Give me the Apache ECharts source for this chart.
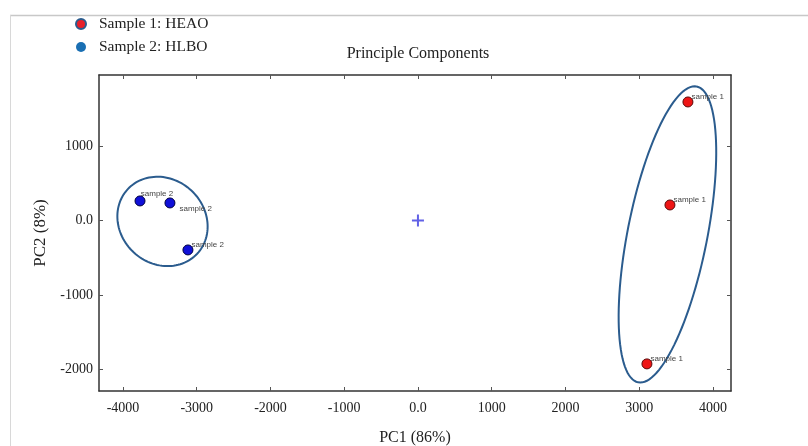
<!DOCTYPE html>
<html>
<head>
<meta charset="utf-8">
<script src="https://cdn.jsdelivr.net/npm/echarts@6/dist/echarts.min.js"></script>
<style>html,body{margin:0;padding:0;background:#fff;}#c{width:808px;height:446px;}</style>
</head>
<body>
<div id="c"></div>
<script>
// ---- data ----
const xTicks = [-4000, -3000, -2000, -1000, 0, 1000, 2000, 3000, 4000];
const yTicks = [-2000, -1000, 0, 1000];
const xRange = [-4325, 4245];
const yRange = [-2290, 1953];
const sample1Name = 'Sample 1: HEAO';
const sample2Name = 'Sample 2: HLBO';
const sample1Points = [[3661, 1591], [3417, 208], [3105, -1926]];
const sample2Points = [[-3769, 262], [-3363, 235], [-3119, -396]];
const sample1Labels = ['sample 1', 'sample 1', 'sample 1'];
const sample2Labels = ['sample 2', 'sample 2', 'sample 2'];
const origin = [[0, 0]];
// ellipse: [centerX, centerY, semiMajor, semiMinor, angleDeg]
const ellipses = [[3383, -188, 2025, 540, 78.7], [-3464, -13, 640, 570, -40]];

// ---- styles ----
const serif = '"Liberation Serif", "DejaVu Serif", serif';
const s1LabelOffsets = [[-2, -5], [-2, -5], [-2, -5]];
const s2LabelPos = [
  {position: 'top', offset: [17, 2]},
  {position: 'right', offset: [4, 6]},
  {position: 'right', offset: [-2, -5]}
];

const chart = echarts.init(document.getElementById('c'), null, {renderer: 'canvas'});

function xAxisCfg(pos, showLabels) {
  return {
    type: 'value', position: pos, min: xRange[0], max: xRange[1],
    axisLine: {onZero: false, lineStyle: {color: '#333', width: 1.5}},
    splitLine: {show: false},
    axisTick: {show: true, inside: true, length: 4, customValues: xTicks, lineStyle: {color: '#555'}},
    axisLabel: {show: showLabels, customValues: xTicks, margin: 10, color: '#222', fontFamily: serif, fontSize: 14,
      formatter: v => v === 0 ? '0.0' : String(v)}
  };
}
function yAxisCfg(pos, showLabels) {
  return {
    type: 'value', position: pos, min: yRange[0], max: yRange[1],
    axisLine: {onZero: false, lineStyle: {color: '#333', width: 1.5}},
    splitLine: {show: false},
    axisTick: {show: true, inside: true, length: 4, customValues: yTicks, lineStyle: {color: '#555'}},
    axisLabel: {show: showLabels, customValues: yTicks, margin: 6, color: '#222', fontFamily: serif, fontSize: 14,
      formatter: v => v === 0 ? '0.0' : String(v)}
  };
}

const xMain = xAxisCfg('bottom', true);
xMain.name = 'PC1 (86%)';
xMain.nameLocation = 'middle';
xMain.nameGap = 39;
xMain.nameTextStyle = {fontFamily: serif, fontSize: 16, color: '#222'};
const yMain = yAxisCfg('left', true);
yMain.name = 'PC2 (8%)';
yMain.nameLocation = 'middle';
yMain.nameGap = 47;
yMain.nameTextStyle = {fontFamily: serif, fontSize: 17, color: '#222'};

function ellipseRender(params, api) {
  const cx = api.value(0), cy = api.value(1), a = api.value(2), b = api.value(3);
  const ang = api.value(4) * Math.PI / 180;
  const pts = [];
  const n = 120;
  for (let i = 0; i <= n; i++) {
    const t = i / n * Math.PI * 2;
    const ex = a * Math.cos(t), ey = b * Math.sin(t);
    const dx = cx + ex * Math.cos(ang) - ey * Math.sin(ang);
    const dy = cy + ex * Math.sin(ang) + ey * Math.cos(ang);
    pts.push(api.coord([dx, dy]));
  }
  return {type: 'polyline', shape: {points: pts}, style: {stroke: '#2b5c8e', lineWidth: 2, fill: null}, silent: true};
}

chart.setOption({
  animation: false,
  backgroundColor: '#fff',
  title: {text: 'Principle Components', left: 413, top: 41, textAlign: 'center',
    textStyle: {fontFamily: serif, fontSize: 16, fontWeight: 'normal', color: '#222'}},
  legend: {
    orient: 'vertical', left: 75, top: 16, padding: 0, itemWidth: 10, itemHeight: 10, itemGap: 7,
    icon: 'circle',
    textStyle: {fontFamily: serif, fontSize: 15.5, color: '#222', padding: [0, 0, 0, 8]},
    data: [
      {name: sample1Name, itemStyle: {color: '#e8202a', borderColor: '#2b5c8e', borderWidth: 2}},
      {name: sample2Name, itemStyle: {color: '#1a6fb3', borderColor: '#1a6fb3', borderWidth: 0}}
    ]
  },
  graphic: [
    {type: 'line', shape: {x1: 10, y1: 15.5, x2: 808, y2: 15.5}, style: {stroke: '#c8c8c8', lineWidth: 1.5}, silent: true},
    {type: 'line', shape: {x1: 10.5, y1: 15, x2: 10.5, y2: 446}, style: {stroke: '#d8d8d8', lineWidth: 1}, silent: true}
  ],
  grid: {left: 99, right: 77, top: 75, bottom: 55, containLabel: false, outerBoundsMode: 'none'},
  xAxis: [xMain, xAxisCfg('top', false)],
  yAxis: [yMain, yAxisCfg('right', false)],
  series: [
    {
      type: 'custom', name: 'ellipses', renderItem: ellipseRender, data: ellipses,
      encode: {x: 0, y: 1}, silent: true, z: 1
    },
    {
      type: 'scatter', name: sample1Name, symbolSize: 10, z: 3,
      itemStyle: {color: '#ee1515', borderColor: '#5a0a0a', borderWidth: 1, opacity: 1},
      label: {show: true, fontFamily: '"Liberation Sans", Arial, sans-serif', fontSize: 8, color: '#444'},
      data: sample1Points.map((p, i) => ({value: p,
        label: {formatter: sample1Labels[i], position: 'right', distance: 0, offset: s1LabelOffsets[i]}}))
    },
    {
      type: 'scatter', name: sample2Name, symbolSize: 10, z: 3,
      itemStyle: {color: '#1010d8', borderColor: '#000040', borderWidth: 1, opacity: 1},
      label: {show: true, fontFamily: '"Liberation Sans", Arial, sans-serif', fontSize: 8, color: '#444'},
      data: sample2Points.map((p, i) => ({value: p,
        label: Object.assign({formatter: sample2Labels[i], distance: 0}, s2LabelPos[i])}))
    },
    {
      type: 'scatter', name: 'origin', symbol: 'path://M5,0h2v5h5v2h-5v5h-2v-5h-5v-2h5z', symbolSize: 12,
      itemStyle: {color: '#3a3ae0'}, data: origin, z: 2, silent: true
    }
  ]
});
</script>
</body>
</html>
